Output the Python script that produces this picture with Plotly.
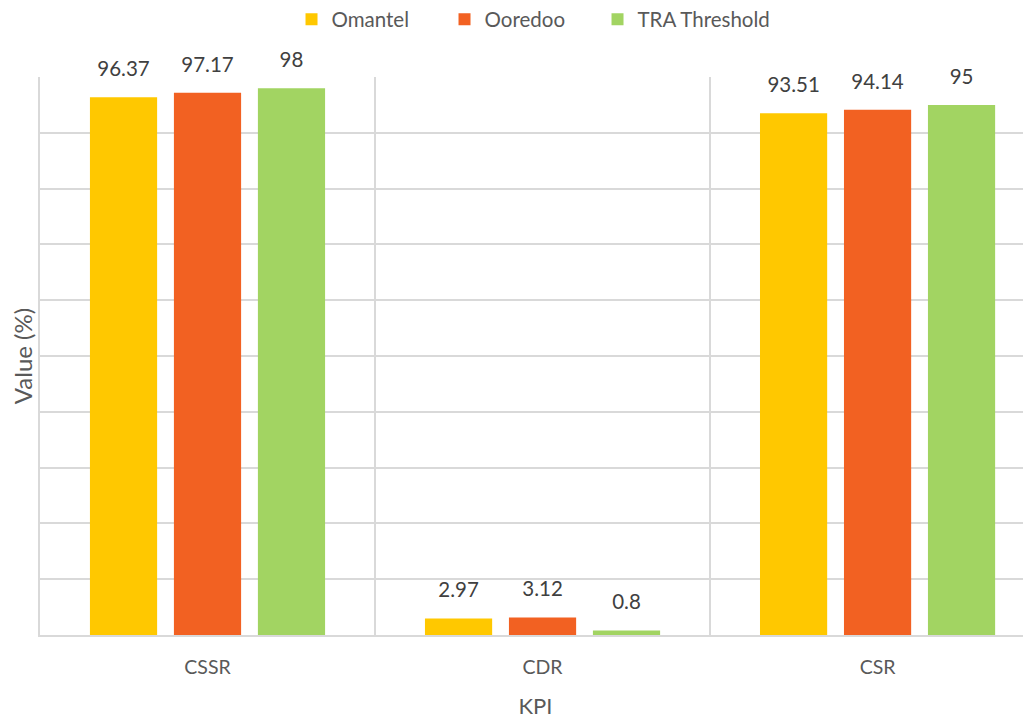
import plotly.graph_objects as go

categories = ["CSSR", "CDR", "CSR"]
omantel = [96.37, 2.97, 93.51]
ooredoo = [97.17, 3.12, 94.14]
tra = [98, 0.8, 95]
series_names = ["Omantel", "Ooredoo", "TRA Threshold"]
colors = ["#FFC800", "#F26122", "#A2D462"]
legend_widths = [108, 108, None]

FONT = "Lato, Open Sans, sans-serif"
fig = go.Figure()
for name, vals, col, lw in zip(series_names, [omantel, ooredoo, tra], colors, legend_widths):
    bar = go.Bar(
        name=name, x=categories, y=vals, marker_color=col,
        marker_line_width=0, hoverinfo="x+y+name",
    )
    if lw:
        bar.legendwidth = lw
    fig.add_trace(bar)
# value labels placed above each bar
for name, vals in zip(series_names, [omantel, ooredoo, tra]):
    fig.add_trace(go.Scatter(
        x=categories, y=vals, mode="markers+text",
        text=[f"{v:g}" for v in vals], textposition="top center",
        textfont=dict(size=20.5, color="#404040", family=FONT),
        marker=dict(size=24, opacity=0), showlegend=False, hoverinfo="skip",
        cliponaxis=False,
    ))

fig.update_layout(
    width=1023, height=711,
    margin=dict(l=32, r=0, t=69, b=84, autoexpand=False),
    paper_bgcolor="white", plot_bgcolor="white",
    barmode="group", bargap=0.248, bargroupgap=0.2,
    scattermode="group", scattergap=0.248,
    font=dict(family=FONT, color="#595959", size=18),
    legend=dict(orientation="h", x=0.498, xanchor="center",
                yref="container", y=0.984, yanchor="middle",
                font=dict(size=20.5, color="#595959"), itemwidth=30, traceorder="normal"),
)
fig.update_xaxes(
    type="category", range=[-0.5, 2.458], tickson="boundaries",
    showgrid=True, gridcolor="#D9D9D9", gridwidth=2,
    showline=True, linecolor="#D9D9D9", linewidth=2,
    ticks="", tickfont=dict(size=19.5, color="#595959"), ticklabelstandoff=14,
    title=dict(text="KPI", font=dict(size=22, color="#595959"), standoff=23),
    automargin=False,
)
fig.update_yaxes(
    range=[0, 100], dtick=10, showgrid=True, gridcolor="#D9D9D9", gridwidth=1.5,
    showticklabels=False, zeroline=False, showline=True, linecolor="#D9D9D9", linewidth=2,
    title=dict(text="Value (%)", font=dict(size=24, color="#595959"), standoff=6),
    automargin=False,
)
fig.write_html("out.html")
